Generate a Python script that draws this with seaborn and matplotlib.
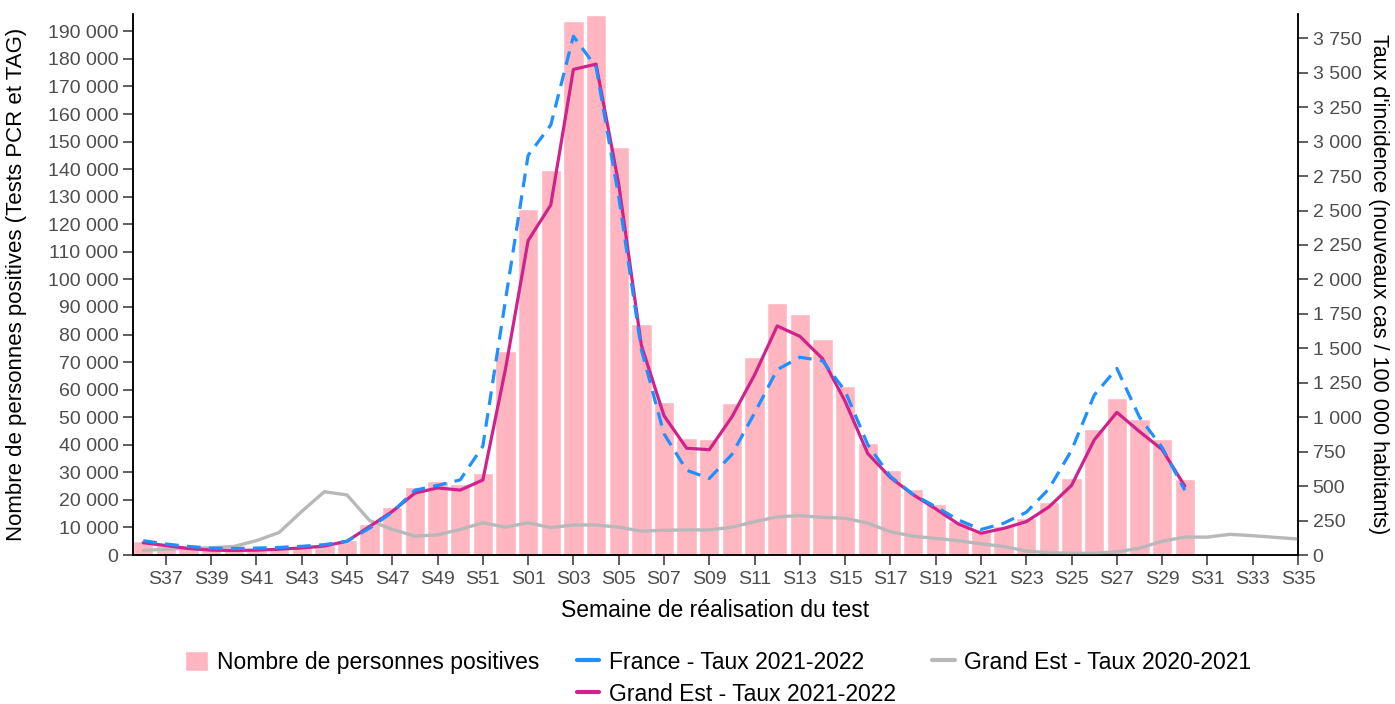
import matplotlib
matplotlib.use('Agg')
import matplotlib.pyplot as plt
import numpy as np
import pandas as pd
import seaborn as sns
from matplotlib.lines import Line2D
from matplotlib.patches import Patch
from matplotlib.ticker import FuncFormatter

sns.set_style('ticks')
plt.rcParams['font.family'] = ['Liberation Sans', 'DejaVu Sans']
plt.rcParams['text.color'] = 'black'
plt.rcParams['axes.labelcolor'] = 'black'

weeks = [f'S{w:02d}' for w in list(range(36, 53)) + list(range(1, 36))]

# nombre de personnes positives, S36 -> S30
positives = [4900, 3800, 2600, 1900, 1800, 1900, 2300, 2800, 3600, 5500,
             11400, 17400, 24700, 26800, 25900, 29900, 74100,
             125500, 139700, 193800, 195900, 148100, 83700, 55600, 42600, 42000, 55100,
             71900, 91400, 87300, 78400, 61300, 40500, 30900, 24100, 18400, 12400,
             8700, 10600, 13300, 19200, 27800, 45900, 56900, 49300, 42100, 27500]

# taux d'incidence Grand Est 2021-2022, S36 -> S30
ge_2122 = [89, 69, 47, 35, 33, 35, 42, 51, 65, 100,
           207, 316, 449, 487, 471, 544, 1350,
           2282, 2540, 3524, 3562, 2693, 1522, 1011, 775, 764, 1002,
           1307, 1662, 1587, 1425, 1115, 736, 562, 438, 335, 225,
           158, 193, 242, 349, 505, 835, 1035, 896, 765, 500]

# taux d'incidence France 2021-2022, S36 -> S30
fr_2122 = [104, 80, 62, 50, 47, 50, 55, 63, 75, 100,
           195, 310, 470, 505, 545, 790, 1850,
           2900, 3120, 3765, 3540, 2600, 1490, 880, 615, 555, 730,
           1030, 1345, 1435, 1410, 1190, 800, 570, 440, 350, 255,
           185, 230, 310, 480, 760, 1160, 1354, 1000, 780, 470]

# taux d'incidence Grand Est 2020-2021, S36 -> S35
ge_2021 = [33, 42, 49, 52, 62, 104, 163, 316, 459, 436,
           250, 186, 137, 146, 186, 234, 202,
           234, 199, 218, 218, 202, 173, 179, 182, 182, 202,
           241, 277, 286, 273, 267, 231, 169, 137, 120, 104,
           81, 62, 29, 16, 13, 13, 23, 49, 100, 130,
           130, 150, 140, 128, 116]

PINK = '#FFB6C1'
BLUE = '#1E90FF'
MAGENTA = '#D0228C'
GREY = '#B8B8B8'
TICK_COLOR = '#4D4D4D'

bars_df = pd.DataFrame({'semaine': weeks[:len(positives)], 'positifs': positives})

fig = plt.figure(figsize=(13.95, 7.04), dpi=100)
ax = fig.add_axes([133 / 1395, 1 - 555 / 704, (1298 - 133) / 1395, (555 - 14) / 704])

sns.barplot(data=bars_df, x='semaine', y='positifs', order=weeks, color=PINK,
            saturation=1, width=0.9, ax=ax)

ax2 = ax.twinx()
sns.lineplot(x=np.arange(len(ge_2021)), y=ge_2021, color=GREY, lw=2.4, ax=ax2)
sns.lineplot(x=np.arange(len(ge_2122)), y=ge_2122, color=MAGENTA, lw=2.3, ax=ax2)
sns.lineplot(x=np.arange(len(fr_2122)), y=fr_2122, color=BLUE, lw=2.3,
             linestyle=(0, (4.3, 2.6)), ax=ax2)

ax.set_xlim(-0.45, 51)
ax.set_ylim(0, 196300)
ax2.set_ylim(0, 196300 / 50)

ax.set_xticks(range(1, 52, 2))
ax.set_xticklabels(weeks[1::2])
ax.set_yticks(range(0, 190001, 10000))
ax2.set_yticks(range(0, 3751, 250))
fmt = FuncFormatter(lambda v, p: f'{int(v):,}'.replace(',', ' '))
ax.yaxis.set_major_formatter(fmt)
ax2.yaxis.set_major_formatter(fmt)

for a in (ax, ax2):
    a.tick_params(axis='both', labelsize=14, labelcolor=TICK_COLOR, color='#333333',
                  length=7.5, width=1.1, pad=3)
    a.spines['top'].set_visible(False)
    for s in ('left', 'right', 'bottom'):
        a.spines[s].set_linewidth(1.1)
        a.spines[s].set_color('black')
ax.tick_params(axis='x', pad=4)

ax.set_xlabel('Semaine de réalisation du test', fontsize=16.5, labelpad=8)
ax.set_ylabel('Nombre de personnes positives (Tests PCR et TAG)', fontsize=16)
ax2.set_ylabel("Taux d'incidence (nouveaux cas / 100 000 habitants)", fontsize=15.5,
               rotation=270, labelpad=20)
ax.yaxis.set_label_coords(-0.091, 0.5)

blank = Line2D([], [], linestyle='none')
handles = [Patch(facecolor=PINK), blank,
           Line2D([], [], color=BLUE, lw=3), Line2D([], [], color=MAGENTA, lw=3),
           Line2D([], [], color=GREY, lw=3), blank]
labels = ['Nombre de personnes positives', '',
          'France - Taux 2021-2022', 'Grand Est - Taux 2021-2022',
          'Grand Est - Taux 2020-2021', '']
fig.legend(handles, labels, ncol=3, loc='center', bbox_to_anchor=(0.515, 0.036),
           frameon=False, fontsize=16.5, handlelength=1.0, handleheight=1.0,
           handletextpad=0.4, columnspacing=1.6, labelspacing=0.4)

fig.savefig('out.png', dpi=100)
